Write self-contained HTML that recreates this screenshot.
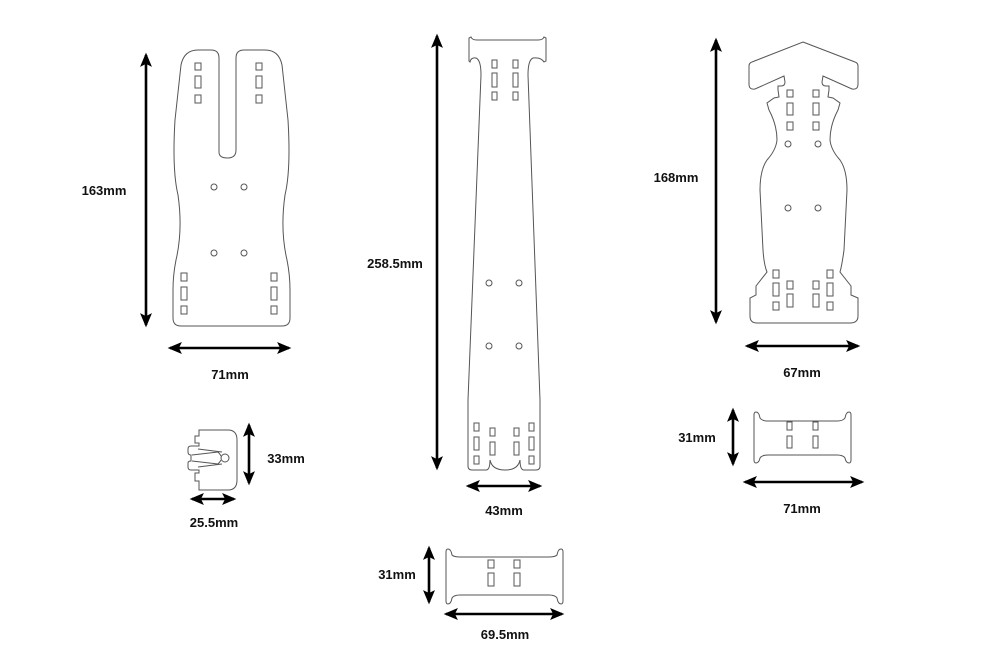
<!DOCTYPE html>
<html><head><meta charset="utf-8"><style>
html,body{margin:0;padding:0;background:#fff}
svg{display:block}
text{font-family:"Liberation Sans",sans-serif;font-weight:bold;font-size:13px;fill:#111;text-anchor:middle}
.o{fill:none;stroke:#555;stroke-width:1}
.a{stroke:#000;stroke-width:2.6;marker-start:url(#m);marker-end:url(#m)}
</style></head><body>
<svg width="1000" height="661" viewBox="0 0 1000 661">
<defs><marker id="m" viewBox="0 0 12 10" refX="10" refY="5" markerWidth="5.5" markerHeight="4.6" orient="auto-start-reverse" markerUnits="strokeWidth"><path d="M0,0 L12,5 L0,10 L2.5,5 Z" fill="#000"/></marker></defs>

<!-- shape 1 -->
<path class="o" d="M219,152 L219,58 Q219,50 211,50 L198,50 Q184,50 181,65 L175,120 Q172,170 178,195 Q183,230 176,260 Q173,275 173,290 L173,318 Q173,326 181,326 L282,326 Q290,326 290,318 L290,290 Q290,275 287,260 Q280,230 285,195 Q291,170 288,120 L282,65 Q279,50 265,50 L244,50 Q236,50 236,58 L236,150 Q236,158 227.5,158 Q219,158 219,152 Z"/>
<g class="o">
<rect x="195" y="63" width="6" height="7"/><rect x="195" y="76" width="6" height="12"/><rect x="195" y="95" width="6" height="8"/>
<rect x="256" y="63" width="6" height="7"/><rect x="256" y="76" width="6" height="12"/><rect x="256" y="95" width="6" height="8"/>
<circle cx="214" cy="187" r="3"/><circle cx="244" cy="187" r="3"/><circle cx="214" cy="253" r="3"/><circle cx="244" cy="253" r="3"/>
<rect x="181" y="273" width="6" height="8"/><rect x="181" y="287" width="6" height="13"/><rect x="181" y="306" width="6" height="8"/>
<rect x="271" y="273" width="6" height="8"/><rect x="271" y="287" width="6" height="13"/><rect x="271" y="306" width="6" height="8"/>
</g>
<line class="a" x1="146" y1="325" x2="146" y2="55"/>
<line class="a" x1="170" y1="348" x2="289" y2="348"/>
<text x="104" y="195">163mm</text>
<text x="230" y="379">71mm</text>

<!-- shape 2 -->
<path class="o" d="M471,37 Q472,40 477,40 L538,40 Q543,40 544,37 L546,38 L546,61 L544,62 Q541,57 533,58 Q528,60 528,75 L540,400 L540,466 Q540,470 536,470 L524,470 Q520,470 520,460 Q518,470 505,470 Q492,470 490,460 Q490,470 486,470 L472,470 Q468,470 468,466 L468,400 L481,75 Q481,60 476,58 Q471,57 470,62 L469,61 L469,38 Z"/>
<g class="o">
<rect x="492" y="60" width="5" height="8"/><rect x="492" y="73" width="5" height="14"/><rect x="492" y="92" width="5" height="8"/>
<rect x="513" y="60" width="5" height="8"/><rect x="513" y="73" width="5" height="14"/><rect x="513" y="92" width="5" height="8"/>
<circle cx="489" cy="283" r="3"/><circle cx="519" cy="283" r="3"/><circle cx="489" cy="346" r="3"/><circle cx="519" cy="346" r="3"/>
<rect x="474" y="423" width="5" height="8"/><rect x="474" y="437" width="5" height="13"/><rect x="474" y="456" width="5" height="8"/>
<rect x="490" y="428" width="5" height="8"/><rect x="490" y="442" width="5" height="13"/>
<rect x="514" y="428" width="5" height="8"/><rect x="514" y="442" width="5" height="13"/>
<rect x="529" y="423" width="5" height="8"/><rect x="529" y="437" width="5" height="13"/><rect x="529" y="456" width="5" height="8"/>
</g>
<line class="a" x1="437" y1="468" x2="437" y2="36"/>
<line class="a" x1="468" y1="486" x2="540" y2="486"/>
<text x="395" y="268">258.5mm</text>
<text x="504" y="515">43mm</text>

<!-- shape 3 -->
<path class="o" d="M803,42 L855,62 Q858,63 858,66 L858,84 Q858,90 852,89 L823,76 L822,82 Q822,86 826,86 L829,86 L829,90 L828,97 L833,98 L840,103 L838,110 Q830,125 830,140 Q831,150 840,160 Q847,170 847,190 L844,250 Q842,265 840,272 L851,286 L851,295 L858,298 L858,316 Q858,323 850,323 L757,323 Q750,323 750,316 L750,298 L756,295 L756,286 L767,272 Q764,265 763,250 L760,190 Q760,170 767,160 Q776,150 777,140 Q777,125 769,110 L767,103 L774,98 L779,97 L778,90 L778,86 L781,86 Q785,86 785,82 L784,76 L755,89 Q749,90 749,84 L749,66 Q749,63 752,62 Z"/>
<g class="o">
<rect x="787" y="90" width="6" height="7"/><rect x="787" y="103" width="6" height="12"/><rect x="787" y="122" width="6" height="8"/>
<rect x="813" y="90" width="6" height="7"/><rect x="813" y="103" width="6" height="12"/><rect x="813" y="122" width="6" height="8"/>
<circle cx="788" cy="144" r="3"/><circle cx="818" cy="144" r="3"/><circle cx="788" cy="208" r="3"/><circle cx="818" cy="208" r="3"/>
<rect x="773" y="270" width="6" height="8"/><rect x="773" y="283" width="6" height="13"/><rect x="773" y="302" width="6" height="8"/>
<rect x="787" y="281" width="6" height="8"/><rect x="787" y="294" width="6" height="13"/>
<rect x="813" y="281" width="6" height="8"/><rect x="813" y="294" width="6" height="13"/>
<rect x="827" y="270" width="6" height="8"/><rect x="827" y="283" width="6" height="13"/><rect x="827" y="302" width="6" height="8"/>
</g>
<line class="a" x1="716" y1="322" x2="716" y2="40"/>
<line class="a" x1="747" y1="346" x2="858" y2="346"/>
<text x="676" y="182">168mm</text>
<text x="802" y="377">67mm</text>

<!-- small piece 1 -->
<path class="o" d="M199,430 L228,430 Q237,430 237,440 L237,480 Q237,490 228,490 L199,490 L199,481 L195,481 L195,473 L199,473 L199,470 L191,470 Q188,470 188,467 L188,463 Q188,461 191,461 L191,455 Q188,455 188,452 L188,449 Q188,446 191,446 L199,446 L199,443 L195,443 L195,436 L199,436 Z"/>
<path class="o" d="M192,455 L218,452 Q220,454 221,456 M192,461 L218,464 Q220,462 221,460 M198,449 L222,452 M198,467 L222,464"/>
<circle class="o" cx="225" cy="458" r="4"/>
<line class="a" x1="249" y1="483" x2="249" y2="425"/>
<line class="a" x1="192" y1="499" x2="234" y2="499"/>
<text x="286" y="463">33mm</text>
<text x="214" y="527">25.5mm</text>

<!-- small piece 2 -->
<path class="o" d="M448,549 Q451,549 452,555 Q454,557 460,557 L549,557 Q555,557 557,555 Q558,549 561,549 Q563,549 563,552 L563,601 Q563,604 561,604 Q558,604 557,598 Q555,595 549,595 L460,595 Q454,595 452,598 Q451,604 448,604 Q446,604 446,601 L446,552 Q446,549 448,549 Z"/>
<g class="o"><rect x="488" y="560" width="6" height="8"/><rect x="488" y="573" width="6" height="13"/><rect x="514" y="560" width="6" height="8"/><rect x="514" y="573" width="6" height="13"/></g>
<line class="a" x1="429" y1="602" x2="429" y2="548"/>
<line class="a" x1="446" y1="614" x2="562" y2="614"/>
<text x="397" y="579">31mm</text>
<text x="505" y="639">69.5mm</text>

<!-- small piece 3 -->
<path class="o" d="M756,412 Q759,412 760,418 Q762,421 768,421 L837,421 Q843,421 845,418 Q846,412 849,412 Q851,412 851,415 L851,460 Q851,463 849,463 Q846,463 845,458 Q843,455 837,455 L768,455 Q762,455 760,458 Q759,463 756,463 Q754,463 754,460 L754,415 Q754,412 756,412 Z"/>
<g class="o"><rect x="787" y="422" width="5" height="8"/><rect x="787" y="436" width="5" height="12"/><rect x="813" y="422" width="5" height="8"/><rect x="813" y="436" width="5" height="12"/></g>
<line class="a" x1="733" y1="464" x2="733" y2="410"/>
<line class="a" x1="745" y1="482" x2="862" y2="482"/>
<text x="697" y="442">31mm</text>
<text x="802" y="513">71mm</text>
</svg>
</body></html>
